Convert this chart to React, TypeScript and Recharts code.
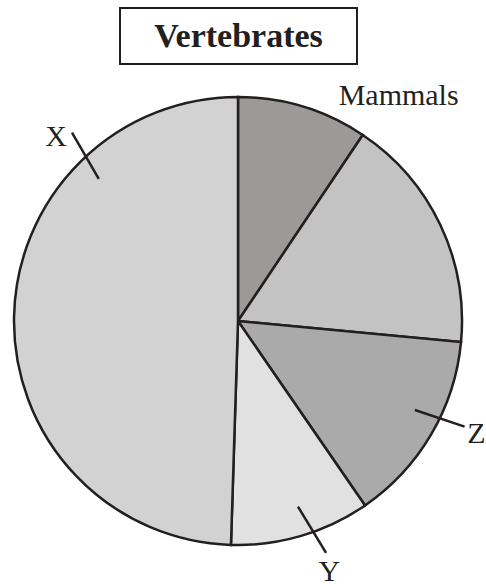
import { Pie, PieChart, Cell } from "recharts";

const CATEGORIES = ["Mammals", "(unlabelled)", "Z", "Y", "X"];
const SHARES = [9.4, 17.1, 13.9, 10.1, 49.5];
const FILLS = ["#9c9a99", "#c3c3c3", "#aaaaaa", "#e1e1e1", "#d2d2d2"];

const INK = "#231f20";
const SERIF = '"Liberation Serif", "Times New Roman", serif';

// where the label text and its little crossing tick sit, as
// [degrees clockwise from 12 o'clock, offset from the pie rim in px]
const LABEL_SPOTS: Record<string, { text: [number, number]; tick?: [[number, number], [number, number]] }> = {
  Mammals: { text: [35.3, 54] },
  Z: { text: [115, 39], tick: [[116.7, -26], [115.0, 26]] },
  Y: { text: [159.9, 42], tick: [[162.1, -29], [159.2, 24]] },
  X: { text: [315.6, 36], tick: [[318.6, 27], [315.6, -25]] },
};

const data = CATEGORIES.map((name, i) => ({ name, value: SHARES[i] }));

function polar(cx: number, cy: number, r: number, deg: number) {
  const rad = (deg * Math.PI) / 180;
  return { x: cx + r * Math.sin(rad), y: cy - r * Math.cos(rad) };
}

function renderLabel(props: any) {
  const { cx, cy, outerRadius, name } = props;
  const spot = LABEL_SPOTS[name];
  if (!spot) return null;
  const t = polar(cx, cy, outerRadius + spot.text[1], spot.text[0]);
  let tick = null;
  if (spot.tick) {
    const a = polar(cx, cy, outerRadius + spot.tick[0][1], spot.tick[0][0]);
    const b = polar(cx, cy, outerRadius + spot.tick[1][1], spot.tick[1][0]);
    tick = <line x1={a.x} y1={a.y} x2={b.x} y2={b.y} stroke={INK} strokeWidth={2.5} />;
  }
  return (
    <g>
      {tick}
      <text
        x={t.x}
        y={t.y}
        textAnchor="middle"
        dominantBaseline="central"
        fill={INK}
        fontFamily={SERIF}
        fontSize={30}
      >
        {name}
      </text>
    </g>
  );
}

export default function App() {
  return (
    <div
      style={{
        position: "absolute",
        left: 0,
        top: 0,
        width: 486,
        height: 584,
        background: "#fff",
      }}
    >
      <div
        style={{
          position: "absolute",
          left: 119,
          top: 7,
          width: 239,
          height: 58,
          boxSizing: "border-box",
          border: `2.5px solid ${INK}`,
          display: "flex",
          alignItems: "center",
          justifyContent: "center",
          fontFamily: SERIF,
          fontWeight: "bold",
          fontSize: 34,
          color: INK,
          lineHeight: 1,
        }}
      >
        Vertebrates
      </div>
      <PieChart
        width={486}
        height={584}
        margin={{ top: 0, right: 0, bottom: 0, left: 0 }}
        style={{ position: "absolute", left: 0, top: 0 }}
      >
        <Pie
          data={data}
          dataKey="value"
          nameKey="name"
          cx={238}
          cy={321}
          outerRadius={224}
          startAngle={90}
          endAngle={-270}
          stroke={INK}
          strokeWidth={2.5}
          label={renderLabel}
          labelLine={false}
          isAnimationActive={false}
        >
          {data.map((d, i) => (
            <Cell key={d.name} fill={FILLS[i]} />
          ))}
        </Pie>
      </PieChart>
    </div>
  );
}
